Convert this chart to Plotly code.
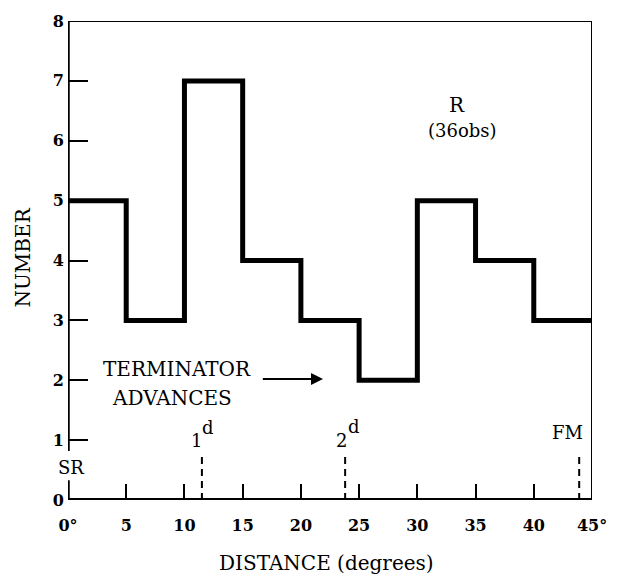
import plotly.graph_objects as go

# Data
bin_edges = [0, 5, 10, 15, 20, 25, 30, 35, 40, 45]
counts = [5, 3, 7, 4, 3, 2, 5, 4, 3]
x_tick_vals = [0, 5, 10, 15, 20, 25, 30, 35, 40, 45]
x_tick_text = ["0°", "5", "10", "15", "20", "25", "30", "35", "40", "45°"]
y_tick_vals = [0, 1, 2, 3, 4, 5, 6, 7, 8]
y_tick_text = ["0", "1", "2", "3", "4", "5", "6", "7", "8"]
marker_positions = [11.5, 23.8, 43.9]   # 1^d, 2^d, FM

FONT = "DejaVu Serif"

step_y = counts + [counts[-1]]

fig = go.Figure()
fig.add_trace(go.Scatter(
    x=bin_edges, y=step_y, mode="lines", line_shape="hv",
    line=dict(color="black", width=5), showlegend=False, hoverinfo="skip",
))

shapes = []
# frame
shapes.append(dict(type="line", xref="x", yref="y", x0=0, x1=0, y0=0.82, y1=8,
                   line=dict(color="black", width=3.5)))
shapes.append(dict(type="line", xref="x", yref="y", x0=0, x1=0, y0=0, y1=0.33,
                   line=dict(color="black", width=3.5)))
shapes.append(dict(type="line", xref="x", yref="y", x0=0, x1=45, y0=8, y1=8,
                   line=dict(color="black", width=2)))
shapes.append(dict(type="line", xref="x", yref="y", x0=45, x1=45, y0=0, y1=8,
                   line=dict(color="black", width=2)))
shapes.append(dict(type="line", xref="x", yref="y", x0=0, x1=45, y0=0, y1=0,
                   line=dict(color="black", width=4)))
for xm in marker_positions:
    shapes.append(dict(type="line", xref="x", yref="y", x0=xm, x1=xm, y0=0, y1=0.78,
                       line=dict(color="black", width=2, dash="7px,5px")))

big = dict(family=FONT, size=20, color="black")
sm = dict(family=FONT, size=18, color="black")
annotations = [
    dict(x=33.4, y=6.6, text="R", showarrow=False, font=big),
    dict(x=33.9, y=6.17, text="(36obs)", showarrow=False, font=sm),
    dict(x=9.35, y=2.19, text="TERMINATOR", showarrow=False, font=big),
    dict(x=8.93, y=1.71, text="ADVANCES", showarrow=False, font=big),
    dict(x=21.9, y=2.02, ax=16.6, ay=2.02, axref="x", ayref="y", text="",
         showarrow=True, arrowhead=2, arrowsize=1.2, arrowwidth=2, arrowcolor="black"),
    dict(x=11.04, y=0.99, text="1", showarrow=False, font=sm),
    dict(x=12.05, y=1.21, text="d", showarrow=False, font=sm),
    dict(x=23.5, y=0.99, text="2", showarrow=False, font=sm),
    dict(x=24.6, y=1.23, text="d", showarrow=False, font=sm),
    dict(x=42.9, y=1.12, text="FM", showarrow=False, font=sm),
    dict(x=0.25, y=0.54, text="SR", showarrow=False, font=sm),
    dict(x=0.5, y=0, xref="paper", yref="paper", yanchor="middle",
         xshift=-4, yshift=-63,
         text="DISTANCE (degrees)", showarrow=False,
         font=dict(family=FONT, size=20, color="black")),
    dict(x=0, y=0.5, xref="paper", yref="paper", xanchor="center", yanchor="middle",
         xshift=-46, yshift=3,
         text="NUMBER", textangle=-90, showarrow=False,
         font=dict(family=FONT, size=20, color="black")),
]

fig.update_layout(
    width=619, height=577,
    margin=dict(l=68, r=17, t=14, b=77),
    paper_bgcolor="white", plot_bgcolor="white",
    shapes=shapes, annotations=annotations,
    xaxis=dict(range=[0, 45], tickvals=x_tick_vals, ticktext=x_tick_text,
               ticks="inside", ticklen=16, tickwidth=2, tickcolor="black",
               showgrid=False, zeroline=False, showline=False,
               ticklabelstandoff=14,
               tickfont=dict(family=FONT, size=16, color="black", weight="bold")),
    yaxis=dict(range=[0, 8], tickvals=y_tick_vals, ticktext=y_tick_text,
               ticks="inside", ticklen=20, tickwidth=2, tickcolor="black",
               showgrid=False, zeroline=False, showline=False,
               ticklabelstandoff=3,
               tickfont=dict(family=FONT, size=16, color="black", weight="bold")),
)

fig.write_html("out.html")
